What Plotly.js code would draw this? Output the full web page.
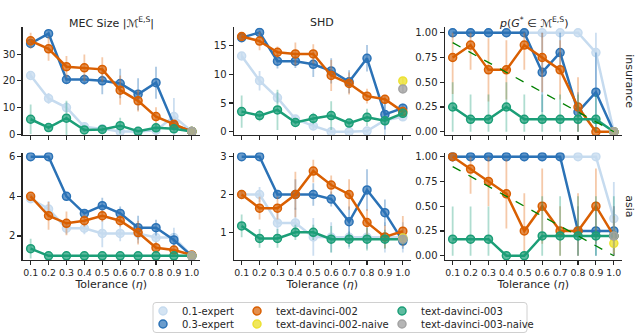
<!DOCTYPE html>
<html>
<head>
<meta charset="utf-8">
<script src="https://cdn.plot.ly/plotly-3.0.1.min.js"></script>
<style>
  body { margin: 0; background: #fff; }
  #chart { width: 640px; height: 334px; }
</style>
</head>
<body>
<div id="chart"></div>
<script>
var tolerance = [0.1, 0.2, 0.3, 0.4, 0.5, 0.6, 0.7, 0.8, 0.9, 1.0];
var tickText = ['0.1', '0.2', '0.3', '0.4', '0.5', '0.6', '0.7', '0.8', '0.9', '1.0'];
var seriesNames = ['0.1-expert', '0.3-expert', 'text-davinci-002', 'text-davinci-002-naive', 'text-davinci-003', 'text-davinci-003-naive'];
var colTitles = ['MEC Size |ℳ<sup>E,S</sup>|', 'SHD', '<i>p</i>(<i>G</i><sup>*</sup> ∈ ℳ<sup>E,S</sup>)'];
var rowNames = ['insurance', 'asia'];

// insurance - MEC size
var mecIns01 = [22, 13.4, 10, 2.8, 2, 1, 1, 1.5, 6.6, 1];
var mecIns01Err = [1, 2, 2, 1, 1, 0.5, 0.5, 1.5, 7, 0];
var mecIns03 = [34, 37.7, 20.5, 20.5, 20, 19, 15, 19.3, 3.5, 1];
var mecIns03Err = [1.5, 1, 1.5, 2, 5, 5.5, 6, 6, 1.5, 0];
var mecIns002 = [35, 32, 25.3, 24.9, 24.3, 16.5, 12.5, 6.6, 3.7, 1];
var mecIns002Err = [3, 4.5, 4, 5, 4.5, 5.5, 4, 3.5, 1, 0];
var mecIns003 = [5.6, 2.5, 6, 1.6, 1.8, 3.2, 1.1, 2.4, 2, 1];
var mecIns003Err = [5.5, 1, 6.5, 0.8, 1, 3, 0.3, 1.2, 1, 0];
var mecInsNaive = [1, 1];
var mecInsNaiveErr = [0, 0];

// insurance - SHD
var shdIns01 = [13.2, 8.9, 5.9, 2.2, 1.0, 0, 0, 0.1, 2.0, 2.6];
var shdIns01Err = [0.6, 1.7, 1, 0.5, 0.6, 0, 0, 0.3, 4, 0.5];
var shdIns03 = [16.4, 17.3, 12.3, 12.3, 11.75, 10.6, 8.7, 12.8, 3.0, 4.1];
var shdIns03Err = [0.5, 0.5, 1.3, 1.2, 2.2, 2.2, 2, 2.3, 2.6, 0.8];
var shdIns002 = [16.6, 15.8, 13.85, 13.55, 13.55, 9.8, 8.4, 6.2, 5.65, 3.5];
var shdIns002Err = [0.6, 1.6, 1, 2, 1.7, 2.7, 1.9, 1.3, 0.8, 0.8];
var shdIns003 = [3.5, 2.8, 3.8, 1.6, 2.3, 2.8, 1.5, 2.5, 1.9, 3.2];
var shdIns003Err = [2.8, 1, 3.5, 0.5, 1, 2.5, 0.5, 1.5, 0.8, 0.8];
var shdInsNaive = [8.85, 7.45];
var shdInsNaiveErr = [0.6, 0.6];

// insurance - p(G* in MEC)
var pIns01 = [1, 1, 1, 1, 1, 1, 1, 1, 0.8, 0];
var pIns01Err = [0, 0, 0, 0, 0, 0, 0, 0, 0.4, 0];
var pIns03 = [1, 1, 1, 1, 1, 0.6, 0.8, 0.2, 0.4, 0];
var pIns03Err = [0, 0, 0, 0, 0, 0.4, 0.2, 0.2, 0.4, 0];
var pIns002 = [0.75, 0.875, 0.625, 0.625, 0.875, 0.75, 0.625, 0.25, 0, 0];
var pIns002Err = [0.37, 0.25, 0.32, 0.3, 0.25, 0.35, 0.3, 0.3, 0, 0];
var pIns003 = [0.25, 0.125, 0.125, 0.25, 0.125, 0.125, 0.125, 0.125, 0.125, 0];
var pIns003Err = [0.25, 0.25, 0.25, 0.25, 0.25, 0.25, 0.25, 0.25, 0.25, 0];
var pInsNaive = [0, 0];
var pInsNaiveErr = [0, 0];

// asia - MEC size
var mecAsia01 = [3.88, 3.36, 2.39, 2.39, 2.13, 2.13, 2.13, 1.92, 1.92, 1.0];
var mecAsia01Err = [0.2, 0.4, 0.3, 0.3, 0.7, 0.4, 0.5, 0.4, 0.5, 0];
var mecAsia03 = [6, 6, 4, 3.14, 3.53, 3.14, 2.42, 2.42, 1.8, 1];
var mecAsia03Err = [0, 0, 0, 0.2, 0.4, 0.35, 0.6, 0.4, 0.35, 0];
var mecAsia002 = [4, 3.02, 2.64, 2.77, 3.02, 2.77, 2.17, 1.41, 1.29, 1.04];
var mecAsia002Err = [0.1, 0.7, 0.6, 0.3, 0.3, 0.3, 0.6, 0.3, 0.2, 0];
var mecAsia003 = [1.36, 1, 1, 1, 1, 1, 1, 1, 1, 1];
var mecAsia003Err = [0.5, 0, 0, 0, 0, 0, 0, 0, 0, 0];
var mecAsiaNaive = [1, 1];
var mecAsiaNaiveErr = [0, 0];

// asia - SHD
var shdAsia01 = [2, 2, 1.25, 1.25, 0.88, 0.87, 0.87, 0.87, 0.87, 0.87];
var shdAsia01Err = [0.1, 0.2, 0.4, 0.4, 0.5, 0.4, 0.3, 0.3, 0.4, 0.4];
var shdAsia03 = [3, 3, 2, 2, 2, 1.88, 1.28, 2.12, 1.52, 0.77];
var shdAsia03Err = [0, 0, 0.1, 0.4, 0.3, 0.2, 0.4, 0.55, 0.35, 0.2];
var shdAsia002 = [2, 1.64, 1.64, 2, 2.62, 2.25, 2, 1.26, 0.88, 1.03];
var shdAsia002Err = [0.1, 0.3, 0.3, 0.6, 0.3, 0.25, 0.4, 0.35, 0.3, 0.4];
var shdAsia003 = [1.17, 0.84, 0.84, 1, 1, 0.82, 0.82, 0.82, 0.82, 0.82];
var shdAsia003Err = [0.3, 0.25, 0.25, 0.2, 0.2, 0.35, 0.2, 0.3, 0.25, 0.15];
var shdAsiaNaive = [0.85, 0.82];
var shdAsiaNaiveErr = [0.1, 0.1];

// asia - p(G* in MEC)
var pAsia01 = [1, 1, 1, 1, 1, 1, 1, 1, 1, 0.375];
var pAsia01Err = [0, 0, 0, 0, 0, 0, 0, 0, 0, 0.37];
var pAsia03 = [1, 1, 1, 1, 1, 1, 1, 0.25, 0.25, 0.25];
var pAsia03Err = [0, 0, 0, 0, 0, 0, 0, 0.25, 0.3, 0.25];
var pAsia002 = [1, 0.875, 0.75, 0.625, 0.25, 0.5, 0.25, 0.25, 0.5, 0.2];
var pAsia002Err = [0, 0.25, 0.25, 0.35, 0.38, 0.38, 0.25, 0.38, 0.38, 0.2];
var pAsia003 = [0.167, 0.167, 0.167, 0, 0, 0.2, 0.2, 0.2, 0.2, 0.2];
var pAsia003Err = [0.33, 0.33, 0.33, 0, 0, 0.4, 0.4, 0.4, 0.4, 0.4];
var pAsiaNaive = [0.125, 0.2];
var pAsiaNaiveErr = [0.1, 0.3];

// random-guess reference line in the p panels
var chanceX = [0.1, 1.0];
var chanceY = [0.9, 0.0];

var lineColors = ['#c6dbef', '#2b72b6', '#d95f02', '#ece133', '#1b9e77', '#a3a3a3'];
var fillColors = ['rgba(198,219,239,0.75)', 'rgba(43,114,182,0.7)', 'rgba(217,95,2,0.7)', 'rgba(236,225,51,0.8)', 'rgba(27,158,119,0.7)', 'rgba(163,163,163,0.8)'];
var errColors = ['rgba(170,200,230,0.6)', 'rgba(43,114,182,0.4)', 'rgba(230,120,40,0.4)', 'rgba(236,225,51,0.5)', 'rgba(27,158,119,0.35)', 'rgba(150,150,150,0.5)'];

var panels = [
  {lines: [mecIns01, mecIns03, mecIns002, mecIns003], errs: [mecIns01Err, mecIns03Err, mecIns002Err, mecIns003Err], naive: mecInsNaive, naiveErr: mecInsNaiveErr, range: [-0.3, 40], ticks: [0, 10, 20, 30], prob: false},
  {lines: [shdIns01, shdIns03, shdIns002, shdIns003], errs: [shdIns01Err, shdIns03Err, shdIns002Err, shdIns003Err], naive: shdInsNaive, naiveErr: shdInsNaiveErr, range: [-0.58, 18.17], ticks: [0, 5, 10, 15], prob: false},
  {lines: [pIns01, pIns03, pIns002, pIns003], errs: [pIns01Err, pIns03Err, pIns002Err, pIns003Err], naive: pInsNaive, naiveErr: pInsNaiveErr, range: [-0.033, 1.053], ticks: [0, 0.25, 0.5, 0.75, 1], prob: true},
  {lines: [mecAsia01, mecAsia03, mecAsia002, mecAsia003], errs: [mecAsia01Err, mecAsia03Err, mecAsia002Err, mecAsia003Err], naive: mecAsiaNaive, naiveErr: mecAsiaNaiveErr, range: [0.79, 6.21], ticks: [2, 4, 6], prob: false},
  {lines: [shdAsia01, shdAsia03, shdAsia002, shdAsia003], errs: [shdAsia01Err, shdAsia03Err, shdAsia002Err, shdAsia003Err], naive: shdAsiaNaive, naiveErr: shdAsiaNaiveErr, range: [0.27, 3.11], ticks: [1, 2, 3], prob: false},
  {lines: [pAsia01, pAsia03, pAsia002, pAsia003], errs: [pAsia01Err, pAsia03Err, pAsia002Err, pAsia003Err], naive: pAsiaNaive, naiveErr: pAsiaNaiveErr, range: [-0.043, 1.042], ticks: [0, 0.25, 0.5, 0.75, 1], prob: true}
];

var xDomains = [[0.0353, 0.3123], [0.365, 0.642], [0.6947, 0.9717]];
var yDomains = [[0.5958, 0.9177], [0.2216, 0.5434]];

var ink = '#262626';
var fontFam = 'DejaVu Sans, sans-serif';

function errBars(y, err, prob, k) {
  var plus = err, minus = err;
  if (prob) {
    plus = err.map(function(e, i) { return Math.min(e, 1 - y[i]); });
    minus = err.map(function(e, i) { return Math.min(e, y[i]); });
  }
  return {type: 'data', symmetric: false, array: plus, arrayminus: minus,
          color: errColors[k], thickness: 1.8, width: 0};
}

function makeTrace(ax, x, y, err, prob, k) {
  return {
    x: x, y: y, xaxis: 'x' + ax, yaxis: 'y' + ax,
    type: 'scatter', mode: 'lines+markers',
    line: {color: lineColors[k], width: 2.5},
    marker: {color: fillColors[k], size: 8, line: {color: lineColors[k], width: 1.5}},
    error_y: errBars(y, err, prob, k),
    showlegend: false, hoverinfo: 'skip'
  };
}

var data = [];
var layout = {
  width: 640, height: 334,
  margin: {l: 0, r: 0, t: 0, b: 0},
  paper_bgcolor: '#fff', plot_bgcolor: 'rgba(0,0,0,0)',
  font: {family: fontFam, size: 10, color: ink},
  showlegend: false,
  annotations: [],
  shapes: []
};

panels.forEach(function(p, i) {
  var n = i + 1;
  var ax = n === 1 ? '' : String(n);
  var row = Math.floor(i / 3), col = i % 3;
  // series drawn in legend order: 0.1, 0.3, 002, (002-naive), 003, (003-naive)
  var order = [0, 1, 2, 4];
  p.lines.forEach(function(y, j) {
    data.push(makeTrace(ax, tolerance, y, p.errs[j], p.prob, order[j]));
  });
  // naive prompts, only at tolerance 1.0
  data.push(makeTrace(ax, [1.0], [p.naive[0]], [p.naiveErr[0]], p.prob, 3));
  data.push(makeTrace(ax, [1.0], [p.naive[1]], [p.naiveErr[1]], p.prob, 5));
  if (p.prob) {
    data.push({x: chanceX, y: chanceY, xaxis: 'x' + ax, yaxis: 'y' + ax, type: 'scatter', mode: 'lines',
      line: {color: '#008000', width: 1.3, dash: 'dash'}, showlegend: false, hoverinfo: 'skip'});
  }

  var xa = {
    domain: xDomains[col], anchor: 'y' + ax, range: [0.055, 1.045],
    tickmode: 'array', tickvals: tolerance, ticktext: tickText, tickangle: 0,
    showticklabels: row === 1, ticks: 'outside', ticklen: 4, tickwidth: 1.1, tickcolor: ink,
    showline: true, linecolor: ink, linewidth: 1.1, showgrid: false, zeroline: false,
    tickfont: {size: 9.4, color: ink}
  };
  if (row === 1) {
    xa.title = {text: 'Tolerance (<i>η</i>)', font: {size: 11, color: ink}, standoff: 0};
  }
  layout['xaxis' + ax] = xa;
  layout['yaxis' + ax] = {
    domain: yDomains[row], anchor: 'x' + ax, range: p.range,
    tickmode: 'array', tickvals: p.ticks,
    ticktext: p.prob ? p.ticks.map(function(t) { return t.toFixed(2); }) : p.ticks.map(String),
    ticks: 'outside', ticklen: 4, tickwidth: 1.1, tickcolor: ink,
    showline: true, linecolor: ink, linewidth: 1.1, showgrid: false, zeroline: false,
    tickfont: {size: 10, color: ink}
  };
});

colTitles.forEach(function(t, c) {
  layout.annotations.push({text: t, xref: 'paper', yref: 'paper',
    x: (xDomains[c][0] + xDomains[c][1]) / 2, y: 1 - 22.5 / 334,
    xanchor: 'center', yanchor: 'middle', showarrow: false, font: {size: 11, color: ink}});
});
rowNames.forEach(function(t, r) {
  layout.annotations.push({text: t, xref: 'paper', yref: 'paper', textangle: 90,
    x: 630 / 640, y: (yDomains[r][0] + yDomains[r][1]) / 2,
    xanchor: 'center', yanchor: 'middle', showarrow: false, font: {size: 11, color: ink}});
});

// legend: three columns of two entries, laid out on a hidden axis pair under the plots
var legendCol = [163, 163, 257, 257, 402, 402];
var legendRow = [311, 324, 311, 324, 311, 324];
var legendTextGap = 17;
data.push({x: legendCol, y: legendRow, xaxis: 'x7', yaxis: 'y7', type: 'scatter', mode: 'markers',
  marker: {color: fillColors, size: 8, line: {color: lineColors, width: 1.5}},
  showlegend: false, hoverinfo: 'skip'});
layout.xaxis7 = {domain: [0, 1], range: [0, 640], visible: false, fixedrange: true};
layout.yaxis7 = {domain: [0, 1 - 296 / 334], range: [334, 296], visible: false, fixedrange: true};
seriesNames.forEach(function(name, k) {
  layout.annotations.push({text: name, xref: 'x7', yref: 'y7', x: legendCol[k] + legendTextGap, y: legendRow[k],
    xanchor: 'left', yanchor: 'middle', showarrow: false, font: {size: 10, color: ink}});
});
var bx0 = 153 / 640, bx1 = 527 / 640, by0 = 1 - 332.5 / 334, by1 = 1 - 302.5 / 334;
var rx = 3 / 640, ry = 3 / 334;
layout.shapes.push({type: 'path', xref: 'paper', yref: 'paper',
  path: 'M ' + (bx0 + rx) + ',' + by1 + ' L ' + (bx1 - rx) + ',' + by1 +
        ' Q ' + bx1 + ',' + by1 + ' ' + bx1 + ',' + (by1 - ry) +
        ' L ' + bx1 + ',' + (by0 + ry) + ' Q ' + bx1 + ',' + by0 + ' ' + (bx1 - rx) + ',' + by0 +
        ' L ' + (bx0 + rx) + ',' + by0 + ' Q ' + bx0 + ',' + by0 + ' ' + bx0 + ',' + (by0 + ry) +
        ' L ' + bx0 + ',' + (by1 - ry) + ' Q ' + bx0 + ',' + by1 + ' ' + (bx0 + rx) + ',' + by1 + ' Z',
  line: {color: '#d0d0d0', width: 1}, fillcolor: 'rgba(0,0,0,0)', layer: 'below'});

Plotly.newPlot('chart', data, layout, {staticPlot: true});
</script>
</body>
</html>
